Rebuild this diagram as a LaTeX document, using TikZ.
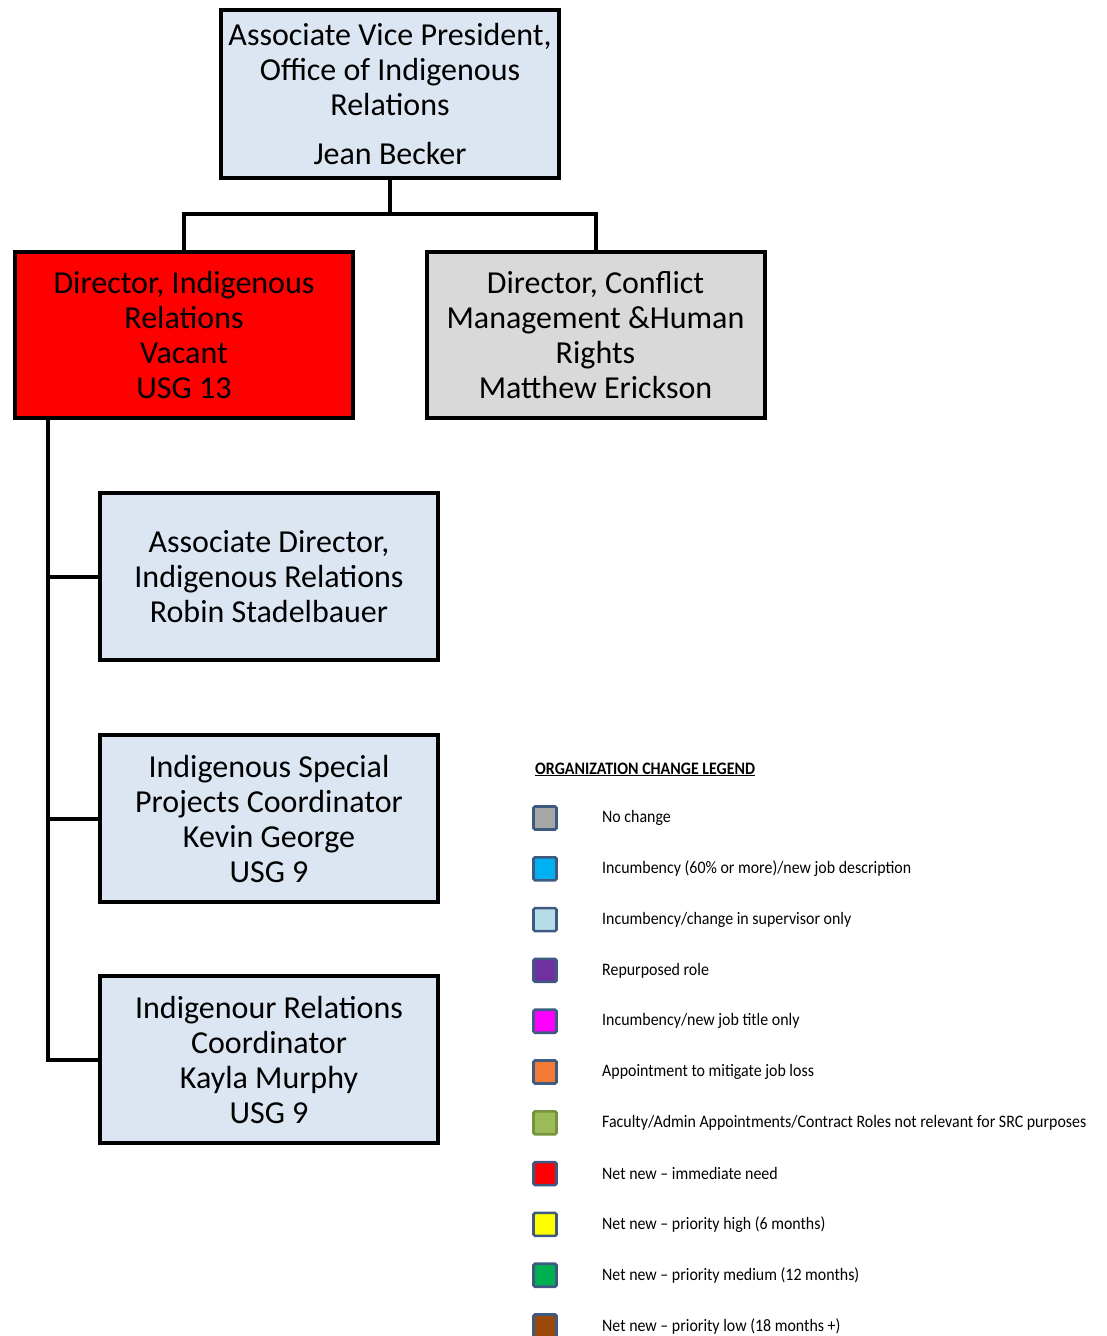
\documentclass[tikz,border=0pt]{standalone}
\usepackage{fontspec}
\setmainfont{Carlito}
\newfontfamily\legendfont[FakeStretch=0.91,Ligatures=TeX]{Carlito}
\begin{document}
\begin{tikzpicture}[x=1pt,y=-1pt,
  orgbox/.style={draw=black, line width=4pt, rectangle, minimum width=338pt,
    align=center, font=\fontsize{32}{35}\selectfont, inner sep=2pt},
  link/.style={draw=black, line width=4pt, line join=miter},
  swatch/.style={draw=legendedge, line width=2.6pt, rounded corners=1.5pt,
    minimum width=23pt, minimum height=23pt, inner sep=0pt},
  legendtext/.style={anchor=west, font=\legendfont\fontsize{17.5}{19}\selectfont, inner sep=0pt}
]
\definecolor{boxblue}{HTML}{DCE6F2}
\definecolor{boxgray}{HTML}{D9D9D9}
\definecolor{legendedge}{HTML}{3F5A80}
\useasboundingbox (0,0) rectangle (1106,1336);

% organisation boxes
\node[orgbox, fill=boxblue, minimum height=168pt] (avp) at (390,94)
  {Associate Vice President,\\Office of Indigenous\\Relations\\[14pt]Jean Becker};
\node[orgbox, fill=red, minimum height=166pt] (dir) at (184,335)
  {Director, Indigenous\\Relations\\Vacant\\USG 13};
\node[orgbox, fill=boxgray, minimum height=166pt] (dcm) at (595.5,335)
  {Director, Conflict\\Management \&Human\\Rights\\Matthew Erickson};
\node[orgbox, fill=boxblue, minimum height=167pt] (ad) at (269,576.5)
  {Associate Director,\\Indigenous Relations\\Robin Stadelbauer};
\node[orgbox, fill=boxblue, minimum height=167pt] (ispc) at (269,818.5)
  {Indigenous Special\\Projects Coordinator\\Kevin George\\USG 9};
\node[orgbox, fill=boxblue, minimum height=167pt] (irc) at (269,1059.5)
  {Indigenour Relations\\Coordinator\\Kayla Murphy\\USG 9};

% reporting lines
\coordinate (bus) at (0,214);
\coordinate (trunk) at (48,0);
\draw[link] (avp.south) -- (avp.south |- bus);
\draw[link] (dir.north) -- (dir.north |- bus) -| (dcm.north);
\draw[link] (dir.south -| trunk) -- (irc.west -| trunk) -- (irc.west);
\draw[link] (ad.west -| trunk) -- (ad.west);
\draw[link] (ispc.west -| trunk) -- (ispc.west);

% legend
\node[anchor=base west, inner sep=0pt, font=\legendfont\bfseries\fontsize{17.5}{19}\selectfont]
  (legtitle) at (535,774) {\underline{ORGANIZATION CHANGE LEGEND}};
\foreach \i/\col/\edge/\txt in {
  0/A6A6A6/3F5A80/{No change},
  1/00B0F0/3F5A80/{Incumbency (60\% or more)/new job description},
  2/B7DEE8/3F5A80/{Incumbency/change in supervisor only},
  3/7030A0/3F5A80/{Repurposed role},
  4/FF00FF/3F5A80/{Incumbency/new job title only},
  5/F47B36/3F5A80/{Appointment to mitigate job loss},
  6/9BBB59/77933C/{Faculty/Admin Appointments/Contract Roles not relevant for SRC purposes},
  7/FF0000/3F5A80/{Net new – immediate need},
  8/FFFF00/3F5A80/{Net new – priority high (6 months)},
  9/00B050/3F5A80/{Net new – priority medium (12 months)},
  10/984807/3F5A80/{Net new – priority low (18 months +)}} {
  \definecolor{swfill}{HTML}{\col}
  \definecolor{swedge}{HTML}{\edge}
  \node[swatch, fill=swfill, draw=swedge] (sw\i) at (545,818+50.8*\i) {};
  \node[legendtext] (lt\i) at (602,818+50.8*\i) {\txt};
}
\end{tikzpicture}
\end{document}
